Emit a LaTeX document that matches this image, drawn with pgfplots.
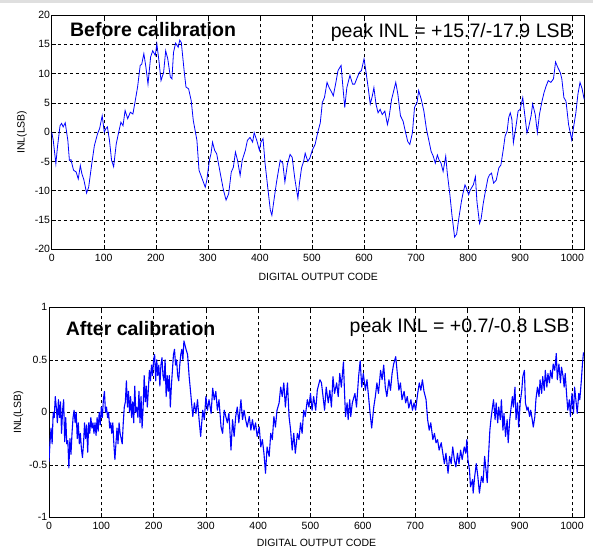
\documentclass[border=0pt]{standalone}
\usepackage{pgfplots}
\pgfplotsset{compat=1.18}
\usepackage{fontspec}
\setmainfont{Liberation Sans}
\begin{document}
\begin{tikzpicture}
\path (0pt,0pt) rectangle (593pt,548pt);
\fill[gray!25] (0pt,545pt) rectangle (593pt,548pt);
\pgfplotsset{
  inlstyle/.style={
    scale only axis,
    anchor=south west,
    xmin=0,
    axis line style={black, line width=0.7pt},
    tick style={black, line width=0.5pt},
    major tick length=4pt,
    grid=major,
    major grid style={black, line width=0.5pt, dash pattern=on 3pt off 3pt},
    xtick={0,100,...,1000},
    /pgf/number format/assume math mode=true,
    /pgf/number format/1000 sep={},
    tick label style={font=\fontsize{10.5}{12}\selectfont},
    yticklabel style={inner xsep=1.5pt},
    xticklabel style={yshift=-1pt},
    label style={font=\fontsize{10.5}{12}\selectfont},
    xlabel={DIGITAL OUTPUT CODE},
    ylabel={INL(LSB)},
  }
}
\begin{axis}[inlstyle,
  at={(51.7pt,298.7pt)}, width=533pt, height=234.3pt,
  xmax=1024, ymin=-20, ymax=20, ytick={-20,-15,...,20},
  xlabel style={at={(axis description cs:0.5,0)}, anchor=center, yshift=-27.7pt},
  ylabel style={at={(axis description cs:-0.056,0.5)}, anchor=center},
]
\addplot[blue, line width=0.8pt] coordinates {
(0,0) (3,-1.4) (8,-5.4) (11,-2.6) (16,1.1) (19,1.5) (22,0.9) (26,1.6) (31,-1.4) (34,-4.8)
(37,-4.7) (42,-6.5) (47,-6.8) (51,-8) (55,-5.7) (58,-7.1) (62,-8.2) (67,-10.4) (71,-9.4) (77,-5.4)
(82,-2.3) (88,-0.3) (92,0.6) (97,2.8) (101,0) (104,0.6) (107,0.9) (111,-1.4) (115,-4.8) (119,-5.9)
(124,-2) (128,-0.3) (133,1.7) (137,1.1) (141,3.7) (146,2.3) (151,3.4) (156,3.1) (160,5.1) (165,7.7)
(170,11.4) (173,11.6) (177,13.4) (181,11.1) (185,8.2) (190,12.8) (194,13.9) (199,13.1) (202,15.1) (206,12.2)
(210,8.8) (215,10.2) (219,13.9) (223,12.5) (228,9.4) (231,9.1) (234,13.6) (238,15.2) (243,14.5) (246,15.7)
(249,15.3) (255,10) (258,7.7) (263,7.4) (268,5.4) (272,2) (279,-1.4) (283,-6.5) (288,-7.7) (295,-9.4)
(298,-8.2) (303,-4.8) (306,-3.7) (309,-1.7) (313,-3.1) (317,-3.7) (324,-7.1) (330,-9.9) (335,-11.6) (340,-10.5)
(345,-6.8) (349,-6) (353,-3.4) (357,-4.8) (362,-7.4) (366,-4.8) (372,-3.1) (376,-1.4) (381,-0.9) (386,-1.7)
(389,-0.1) (394,-1.4) (399,-3.1) (402,-1.7) (406,-1.1) (410,-5.4) (415,-9.4) (420,-13.3) (423,-14.2) (427,-11.6)
(432,-8.5) (439,-4.8) (444,-5.3) (448,-8.5) (453,-5.4) (458,-3.8) (462,-4.3) (467,-7.9) (473,-11.3) (476,-8.7)
(480,-6.1) (484,-5) (487,-3.6) (492,-5) (496,-4.4) (501,-3) (506,-2.1) (511,-0.1) (516,1.6) (520,5.1)
(524,5.9) (529,8.5) (533,7.6) (538,6.8) (541,6.2) (546,8.5) (550,10.5) (556,11.4) (559,8.2) (563,4.2)
(567,7.6) (573,9.7) (578,8.2) (582,8.2) (586,9.1) (591,10.2) (595,10.5) (600,12.5) (603,10.8) (608,7.6)
(612,4.8) (616,6.2) (619,7.6) (623,4.8) (627,3.3) (631,3.9) (635,3) (640,3.6) (645,1.3) (648,2.5)
(653,5.6) (658,7.4) (661,8.5) (665,6.5) (670,2.8) (675,1.9) (680,-0.1) (684,-1.6) (688,-2.1) (693,-0.1)
(697,4.2) (702,5.1) (705,7.1) (710,5.6) (715,3.6) (720,0.5) (725,-1.6) (729,-3.3) (733,-4.1) (737,-5.3)
(741,-3.9) (744,-4.7) (748,-5.3) (752,-6.7) (757,-4.1) (760,-7) (765,-10.7) (769,-14.2) (774,-17.9) (778,-17.4)
(782,-14.8) (787,-11.9) (790,-10.5) (794,-9) (797,-9.6) (801,-10.7) (804,-9.9) (810,-9) (814,-7.6) (817,-11.9)
(822,-15.6) (825,-14.8) (829,-12.2) (833,-10.2) (838,-7.9) (841,-7.3) (845,-7) (849,-8.7) (854,-8.2) (859,-6.1)
(863,-5.6) (868,-2.7) (871,-0.7) (875,0.2) (878,2.5) (881,3.3) (884,2.2) (887,-1.8) (892,1) (896,3.6)
(900,3.9) (905,5.9) (908,3.6) (913,-0.1) (916,0.7) (921,2.8) (924,4.8) (929,3) (933,-0.1) (937,3)
(942,5.3) (946,6.8) (950,7.9) (954,8.8) (959,8.5) (964,9.1) (968,12) (972,11.1) (977,10.2) (980,9.1)
(984,5.9) (988,5.3) (993,1.3) (999,-1.3) (1002,0.5) (1007,3.3) (1011,6.5) (1015,8.5) (1019,7.4) (1023,5.6)
};
\node[anchor=west, font=\fontsize{19.5}{22}\selectfont\bfseries] at (axis description cs:0.028,0.936) {Before calibration};
\node[anchor=east, font=\fontsize{19.5}{22}\selectfont] at (axis description cs:0.984,0.926) {peak INL = +15.7/-17.9 LSB};
\end{axis}

\begin{axis}[inlstyle,
  at={(49pt,30.7pt)}, width=535pt, height=210pt,
  xmax=1023, ymin=-1, ymax=1, ytick={-1,-0.5,0,0.5,1},
  xlabel style={at={(axis description cs:0.5,0)}, anchor=center, yshift=-25.7pt},
  ylabel style={at={(axis description cs:-0.057,0.5)}, anchor=center},
]
\addplot[blue, line width=1.1pt, line join=round] coordinates {
(0,-0.47) (2,-0.28) (4,-0.15) (6,-0.3) (8,0) (10,-0.05) (12,0.15) (14,0.05) (16,-0.1) (18,0.12)
(20,-0.05) (22,0.1) (24,-0.2) (26,0.02) (28,0.12) (30,-0.28) (32,-0.05) (34,-0.3) (36,-0.27) (38,-0.53)
(40,-0.25) (42,-0.4) (44,-0.2) (46,-0.05) (48,0.02) (50,-0.1) (52,0.0) (54,-0.25) (56,-0.1) (58,-0.3)
(60,-0.2) (62,-0.35) (64,-0.43) (66,-0.3) (68,-0.1) (70,-0.25) (72,-0.12) (74,-0.38) (76,-0.1) (78,-0.2)
(80,-0.05) (82,-0.15) (84,-0.1) (86,-0.2) (88,-0.1) (90,-0.22) (92,-0.05) (94,-0.18) (96,0.0) (98,-0.12)
(100,0.05) (102,-0.05) (104,0.12) (106,0.2) (108,0.0) (110,0.05) (112,-0.05) (114,0.0) (116,-0.15) (118,-0.1)
(120,-0.2) (122,-0.1) (124,-0.3) (126,-0.45) (128,-0.3) (130,-0.15) (132,-0.3) (134,-0.1) (136,-0.2) (138,-0.25)
(140,-0.3) (142,-0.1) (144,0.05) (146,0.1) (148,0.3) (150,0.05) (152,0.2) (154,0.0) (156,0.15) (158,-0.05)
(160,0.1) (162,-0.1) (164,0.25) (166,0.0) (168,0.05) (170,-0.05) (172,0.2) (174,-0.1) (176,0.15) (178,-0.15)
(180,0.05) (182,0.35) (184,0.1) (186,0.25) (188,0.05) (190,0.22) (192,0.4) (194,0.3) (196,0.45) (198,0.35)
(200,0.5) (202,0.55) (204,0.3) (206,0.5) (208,0.35) (210,0.45) (212,0.25) (214,0.45) (216,0.52) (218,0.35)
(220,0.3) (222,0.5) (224,0.15) (226,0.35) (228,0.2) (230,0.35) (232,0.05) (234,0.25) (236,0.4) (238,0.55)
(240,0.6) (242,0.45) (244,0.5) (246,0.35) (248,0.3) (250,0.45) (252,0.55) (254,0.6) (256,0.5) (258,0.68)
(262,0.6) (265,0.55) (268,0.34) (271,0.18) (275,-0.04) (278,0.09) (281,-0.01) (284,0.12) (287,-0.07) (290,-0.23)
(294,0.02) (297,-0.07) (300,0.15) (303,0.02) (306,0.12) (310,-0.01) (313,0.23) (316,0.12) (319,0.2) (322,0.02)
(325,0.12) (329,-0.14) (332,-0.2) (335,0.02) (338,-0.04) (341,-0.1) (344,-0.01) (348,-0.36) (351,-0.07) (354,-0.23)
(357,-0.04) (360,0.05) (363,-0.1) (367,0.12) (370,-0.07) (373,0.02) (376,-0.07) (379,-0.14) (383,-0.04) (386,-0.17)
(389,-0.07) (392,-0.17) (395,-0.1) (398,-0.23) (402,-0.14) (405,-0.33) (408,-0.26) (411,-0.39) (414,-0.58) (417,-0.33)
(421,-0.42) (424,-0.2) (427,-0.26) (430,-0.04) (433,-0.14) (436,0.02) (440,0.09) (443,0.24) (446,0.15) (449,0.28)
(452,0.05) (456,0.28) (459,-0.04) (462,-0.17) (465,-0.36) (468,-0.2) (471,-0.39) (475,-0.2) (478,-0.26) (481,-0.1)
(484,-0.2) (487,0.02) (490,-0.04) (494,0.12) (497,0.05) (500,0.18) (503,0.02) (506,0.15) (510,0.02) (513,0.21)
(518,0.31) (521,0.28) (524,0.15) (527,0.02) (530,0.24) (534,0.09) (537,0.21) (540,0.05) (543,0.34) (546,0.18)
(550,0.28) (553,0.15) (556,0.37) (559,0.24) (563,0.48) (565,0.2) (567,-0.04) (570,0.09) (572,-0.07) (575,0.12)
(577,-0.04) (580,0.09) (585,0.18) (588,0.05) (592,0.34) (595,0.49) (598,0.24) (601,0.37) (605,0.21) (608,0.31)
(611,0.15) (614,-0.01) (617,-0.15) (621,0.05) (624,0.15) (627,0.28) (630,0.18) (634,0.4) (637,0.31) (640,0.45)
(643,0.24) (646,0.15) (650,0.31) (653,0.21) (656,0.37) (659,0.46) (663,0.53) (666,0.37) (669,0.21) (672,0.28)
(675,0.12) (679,0.2) (682,0.09) (685,0.15) (688,0.04) (692,0.12) (695,0.02) (698,0.09) (701,0.02) (705,0.18)
(708,0.28) (711,0.21) (714,0.31) (717,0.2) (721,0.12) (724,-0.07) (727,-0.17) (730,-0.1) (734,-0.26) (737,-0.2)
(740,-0.29) (743,-0.26) (746,-0.36) (750,-0.29) (753,-0.39) (756,-0.49) (759,-0.39) (763,-0.58) (766,-0.42) (769,-0.49)
(772,-0.33) (775,-0.45) (778,-0.52) (781,-0.39) (784,-0.49) (787,-0.36) (790,-0.45) (794,-0.33) (797,-0.39) (799,-0.26)
(801,-0.45) (804,-0.55) (806,-0.71) (810,-0.64) (811,-0.77) (814,-0.61) (817,-0.49) (820,-0.61) (823,-0.77) (827,-0.61)
(830,-0.67) (833,-0.42) (835,-0.52) (838,-0.67) (840,-0.45) (843,-0.17) (845,-0.07) (848,0.05) (850,0.12) (853,-0.07)
(855,0.09) (858,-0.1) (860,0.05) (863,-0.07) (865,0.12) (868,-0.17) (870,-0.01) (873,-0.23) (876,-0.07) (878,-0.29)
(881,-0.07) (883,0.02) (886,0.15) (888,0.05) (891,0.24) (893,-0.07) (896,0.09) (898,-0.14) (901,0.09) (904,0.21)
(906,0.34) (909,0.4) (911,0.09) (914,0.02) (916,0.05) (919,-0.04) (921,0.02) (924,-0.07) (926,-0.14) (929,-0.04)
(931,0.12) (934,0.24) (937,0.15) (939,0.31) (942,0.18) (944,0.34) (947,0.21) (949,0.4) (952,0.24) (954,0.37)
(957,0.28) (959,0.4) (962,0.32) (964,0.46) (967,0.4) (970,0.56) (972,0.31) (975,0.46) (978,0.28) (980,0.43)
(983,0.34) (985,0.24) (987,0.37) (990,0.15) (992,0.02) (995,0.12) (997,-0.04) (1000,0.18) (1003,-0.01) (1005,0.24)
(1008,0.09) (1010,-0.01) (1013,0.18) (1015,0.12) (1018,0.31) (1020,0.46) (1022,0.57)
};
\node[anchor=west, font=\fontsize{19.5}{22}\selectfont\bfseries] at (axis description cs:0.025,0.9) {After calibration};
\node[anchor=east, font=\fontsize{19.5}{22}\selectfont] at (axis description cs:0.98,0.905) {peak INL = +0.7/-0.8 LSB};
\end{axis}
\end{tikzpicture}
\end{document}
